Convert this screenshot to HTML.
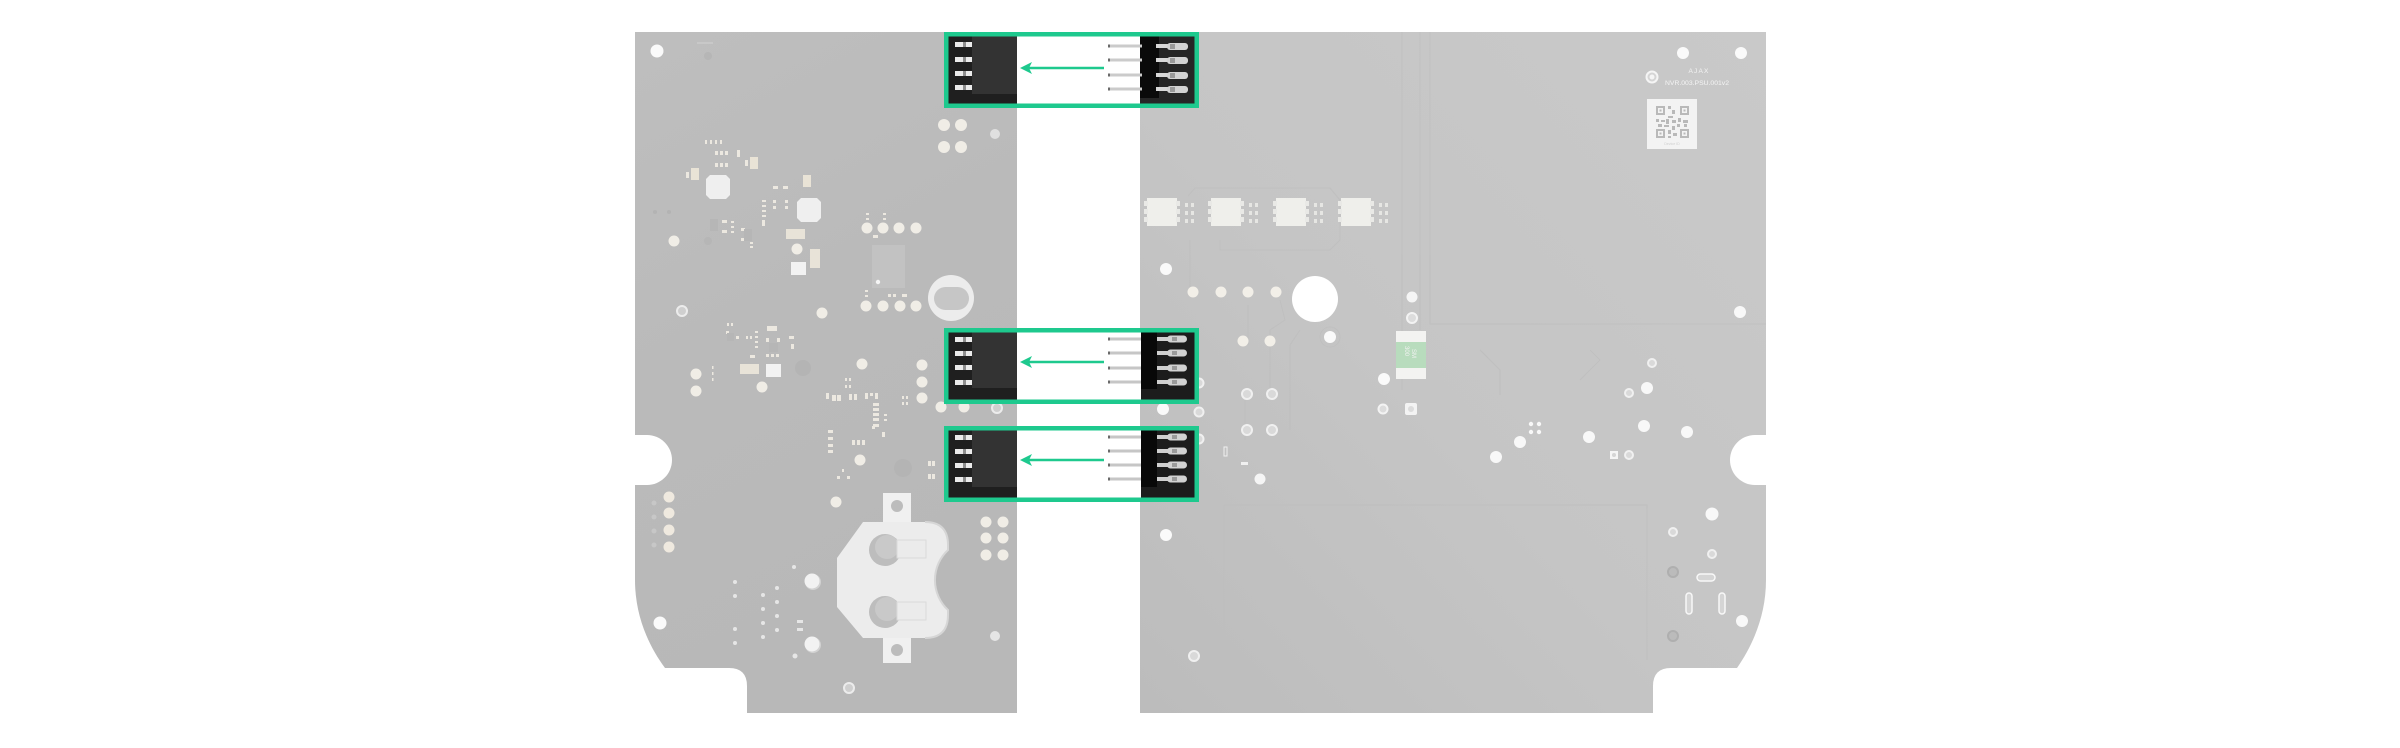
<!DOCTYPE html>
<html>
<head>
<meta charset="utf-8">
<style>
  html,body{margin:0;padding:0;background:#ffffff;}
  body{width:2400px;height:748px;overflow:hidden;}
  svg{display:block;}
  text{font-family:"Liberation Sans",sans-serif;}
</style>
</head>
<body>
<svg width="2400" height="748" viewBox="0 0 2400 748" xmlns="http://www.w3.org/2000/svg">
  <defs>
    <linearGradient id="gl" x1="0" y1="0" x2="0.3" y2="1">
      <stop offset="0" stop-color="#bebebe"/>
      <stop offset="0.5" stop-color="#bababa"/>
      <stop offset="1" stop-color="#b8b8b8"/>
    </linearGradient>
    <linearGradient id="gr" x1="1" y1="0" x2="0" y2="1">
      <stop offset="0" stop-color="#c9c9c9"/>
      <stop offset="0.55" stop-color="#c5c5c5"/>
      <stop offset="1" stop-color="#bcbcbc"/>
    </linearGradient>
  </defs>

  <!-- LEFT BOARD -->
  <path d="M635,32 H1017 V713 H747 V686 Q747,668 729,668 H665 C648,645 635,615 635,580 V485 H647 A25,25 0 0 0 647,435 H635 Z" fill="url(#gl)"/>

  <!-- RIGHT BOARD -->
  <path d="M1140,32 H1766 V435 H1755 A25,25 0 0 0 1755,485 H1766 V580 C1766,615 1753,645 1737,668 H1671 Q1653,668 1653,686 V713 H1140 Z" fill="url(#gr)"/>

  <!-- faint traces right board -->
  <g fill="none" stroke="#bdbdbd" stroke-width="1" opacity="0.7">
    <path d="M1402,32 V390 M1420,32 V330 M1430,32 V324 H1766"/>
    <path d="M1190,240 V290 M1220,240 L1220,250 H1330 L1340,240 V200 L1330,188 H1195 L1188,196"/>
    <path d="M1248,305 V345 M1280,300 L1285,320 L1270,330 V400"/>
    <path d="M1300,330 L1290,345 V430 M1245,400 V440"/>
    <path d="M1224,505 H1647 V660 M1224,505 V660"/>
    <path d="M1480,350 L1500,370 V395 M1590,350 L1600,360 L1580,380"/>
  </g>

  <!-- LEFT BOARD DETAILS -->
  <g>
    <circle cx="657" cy="51" r="6.5" fill="#fafafa"/>
    <rect x="697" y="42" width="16" height="2" fill="#c8c8c8"/>
    <circle cx="708" cy="56" r="4" fill="#b6b6b6"/>
    <!-- 4 circles top -->
    <g fill="#f0ede6">
      <circle cx="944" cy="125" r="6"/><circle cx="961" cy="125" r="6"/>
      <circle cx="944" cy="147" r="6"/><circle cx="961" cy="147" r="6"/>
    </g>
    <circle cx="995" cy="134" r="5" fill="#e0e0e0"/>
    <!-- small pads cluster -->
    <g fill="#ece8e0">
      <rect x="705" y="140" width="2" height="4"/><rect x="710" y="140" width="2" height="4"/><rect x="715" y="140" width="2" height="4"/><rect x="720" y="140" width="2" height="4"/>
      <rect x="715" y="151" width="3" height="4"/><rect x="720" y="151" width="3" height="4"/><rect x="725" y="151" width="3" height="4"/>
      <rect x="737" y="150" width="3" height="7"/>
      <rect x="715" y="163" width="3" height="4"/><rect x="720" y="163" width="3" height="4"/><rect x="725" y="163" width="3" height="4"/>
      <rect x="745" y="160" width="3" height="6"/>
      <rect x="750" y="157" width="8" height="12" fill="#e9e3d6"/>
      <rect x="686" y="172" width="3" height="6"/>
      <rect x="691" y="168" width="8" height="12" fill="#e9e3d6"/>
      <rect x="803" y="175" width="8" height="12" fill="#e9e3d6"/>
      <rect x="773" y="186" width="5" height="3"/><rect x="783" y="186" width="5" height="3"/>
      <rect x="762" y="200" width="4" height="2"/><rect x="762" y="205" width="4" height="2"/><rect x="762" y="210" width="4" height="2"/><rect x="762" y="215" width="4" height="2"/>
      <rect x="762" y="220" width="3" height="6"/>
      <rect x="773" y="200" width="3" height="3"/><rect x="785" y="200" width="3" height="3"/><rect x="773" y="206" width="3" height="3"/><rect x="785" y="206" width="3" height="3"/>
      <rect x="722" y="220" width="5" height="3"/><rect x="722" y="230" width="5" height="3"/><rect x="714" y="225" width="3" height="3"/>
      <rect x="731" y="221" width="3" height="2"/><rect x="731" y="226" width="3" height="2"/><rect x="731" y="231" width="3" height="2"/>
      <rect x="741" y="228" width="4" height="3"/><rect x="741" y="238" width="4" height="3"/><rect x="750" y="242" width="3" height="2"/><rect x="750" y="246" width="3" height="2"/>
      <rect x="866" y="213" width="3" height="2"/><rect x="866" y="218" width="3" height="2"/><rect x="883" y="213" width="3" height="2"/><rect x="883" y="218" width="3" height="2"/>
      <rect x="873" y="235" width="5" height="3"/>
    </g>
    <circle cx="655" cy="212" r="2" fill="#b3b3b3"/><circle cx="669" cy="212" r="2" fill="#b3b3b3"/>
    <rect x="710" y="219" width="8" height="12" fill="#b6b6b6"/>
    <rect x="744" y="229" width="8" height="12" fill="#b6b6b6"/>
    <circle cx="708" cy="241" r="4" fill="#b6b6b6"/>
    <!-- chips -->
    <path d="M710,175 H726 L730,179 V195 L726,199 H710 L706,195 V179 Z" fill="#efefef"/>
    <path d="M801,198 H817 L821,202 V218 L817,222 H801 L797,218 V202 Z" fill="#efefef"/>
    <rect x="786" y="229" width="19" height="10" fill="#e8e3d8"/>
    <circle cx="797" cy="249" r="5.5" fill="#f0ede6"/>
    <rect x="810" y="249" width="10" height="19" fill="#e8e3d8"/>
    <rect x="791" y="262" width="15" height="13" fill="#f2f2f2"/>
    <circle cx="674" cy="241" r="5.5" fill="#f0ede6"/>
    <!-- row circles -->
    <g fill="#f0ede6">
      <circle cx="867" cy="228" r="5.5"/><circle cx="883" cy="228" r="5.5"/><circle cx="899" cy="228" r="5.5"/><circle cx="916" cy="228" r="5.5"/>
      <circle cx="866" cy="306" r="5.5"/><circle cx="883" cy="306" r="5.5"/><circle cx="900" cy="306" r="5.5"/><circle cx="916" cy="306" r="5.5"/>
    </g>
    <rect x="872" y="245" width="33" height="43" fill="#c2c2c2"/>
    <circle cx="878" cy="282" r="2.2" fill="#f5f5f5"/>
    <g fill="#ece8e0">
      <rect x="865" y="290" width="3" height="2"/><rect x="865" y="295" width="3" height="2"/>
      <rect x="888" y="294" width="3" height="3"/><rect x="893" y="294" width="3" height="3"/><rect x="902" y="294" width="5" height="3"/>
    </g>
    <!-- oval hole -->
    <circle cx="951" cy="298" r="23" fill="#ececec"/>
    <rect x="934" y="287" width="35" height="23" rx="11.5" fill="#c6c6c6"/>
    <circle cx="822" cy="313" r="5.5" fill="#f0ede6"/>
    <circle cx="682" cy="311" r="5" fill="#cfcfcf" stroke="#ececec" stroke-width="2"/>
    <!-- middle-lower left cluster -->
    <g fill="#ece8e0">
      <rect x="727" y="323" width="2" height="3"/><rect x="731" y="323" width="2" height="3"/>
      <rect x="726" y="331" width="3" height="3"/><rect x="736" y="336" width="3" height="3"/><rect x="746" y="336" width="2" height="3"/><rect x="750" y="336" width="2" height="3"/>
      <rect x="755" y="331" width="3" height="2"/><rect x="755" y="336" width="3" height="2"/><rect x="755" y="341" width="3" height="2"/><rect x="755" y="346" width="3" height="2"/>
      <rect x="767" y="326" width="10" height="5"/>
      <rect x="766" y="338" width="3" height="4"/><rect x="777" y="338" width="3" height="4"/>
      <rect x="766" y="354" width="3" height="3"/><rect x="771" y="354" width="3" height="3"/><rect x="776" y="354" width="3" height="3"/>
      <rect x="789" y="336" width="5" height="3"/><rect x="791" y="344" width="3" height="5"/>
      <rect x="750" y="355" width="5" height="3"/>
    </g>
    <rect x="727" y="333" width="7" height="8" fill="#b6b6b6"/>
    <rect x="769" y="343" width="9" height="9" fill="#b6b6b6"/>
    <rect x="740" y="364" width="19" height="10" fill="#e8e3d8"/>
    <rect x="766" y="364" width="15" height="13" fill="#f2f2f2"/>
    <circle cx="803" cy="368" r="8" fill="#b4b4b4"/>
    <g fill="#f0ede6">
      <circle cx="862" cy="364" r="5.5"/><circle cx="696" cy="374" r="5.5"/><circle cx="696" cy="391" r="5.5"/><circle cx="762" cy="387" r="5.5"/>
      <circle cx="922" cy="365" r="5.5"/><circle cx="922" cy="382" r="5.5"/><circle cx="922" cy="398" r="5.5"/>
      <circle cx="941" cy="407" r="5.5"/><circle cx="964" cy="407" r="5.5"/>
    </g>
    <circle cx="997" cy="408" r="5" fill="#cfcfcf" stroke="#ececec" stroke-width="2"/>
    <g fill="#ece8e0">
      <rect x="712" y="366" width="1.5" height="3"/><rect x="712" y="372" width="1.5" height="3"/><rect x="712" y="378" width="1.5" height="3"/>
      <rect x="845" y="378" width="2" height="3"/><rect x="849" y="378" width="2" height="3"/>
      <rect x="845" y="385" width="2" height="3"/><rect x="849" y="385" width="2" height="3"/>
      <rect x="826" y="393" width="3" height="6"/><rect x="832" y="395" width="4" height="6"/><rect x="837" y="395" width="4" height="6"/>
      <rect x="849" y="394" width="3" height="6"/><rect x="854" y="394" width="3" height="6"/>
      <rect x="865" y="393" width="3" height="6"/><rect x="870" y="393" width="3" height="3"/><rect x="875" y="393" width="3" height="6"/>
      <rect x="873" y="403" width="6" height="3"/><rect x="873" y="408" width="6" height="3"/><rect x="873" y="413" width="6" height="3"/><rect x="873" y="418" width="6" height="3"/><rect x="873" y="424" width="6" height="3"/>
      <rect x="884" y="414" width="3" height="2"/><rect x="884" y="419" width="3" height="2"/>
      <rect x="902" y="396" width="2" height="3"/><rect x="906" y="396" width="2" height="3"/><rect x="902" y="402" width="2" height="3"/><rect x="906" y="402" width="2" height="3"/>
      <rect x="828" y="430" width="5" height="3"/><rect x="828" y="437" width="5" height="3"/><rect x="828" y="444" width="5" height="3"/><rect x="828" y="450" width="5" height="3"/>
      <rect x="852" y="440" width="3" height="5"/><rect x="857" y="440" width="3" height="5"/><rect x="862" y="440" width="3" height="5"/>
      <rect x="872" y="426" width="3" height="3"/><rect x="882" y="432" width="3" height="5"/>
      <rect x="837" y="476" width="3" height="3"/><rect x="847" y="476" width="3" height="3"/><rect x="842" y="469" width="2" height="3"/>
      <rect x="928" y="461" width="3" height="5"/><rect x="932" y="461" width="3" height="5"/>
      <rect x="928" y="474" width="3" height="5"/><rect x="932" y="474" width="3" height="5"/>
    </g>
    <circle cx="860" cy="460" r="5.5" fill="#f0ede6"/>
    <circle cx="836" cy="502" r="5.5" fill="#f0ede6"/>
    <circle cx="903" cy="468" r="9" fill="#b4b4b4"/>
    <!-- left column -->
    <g fill="#efe9df">
      <circle cx="669" cy="497" r="5.5"/><circle cx="669" cy="513" r="5.5"/><circle cx="669" cy="530" r="5.5"/><circle cx="669" cy="547" r="5.5"/>
    </g>
    <g fill="#c7c7c7">
      <circle cx="654" cy="503" r="2.5"/><circle cx="654" cy="517" r="2.5"/><circle cx="654" cy="531" r="2.5"/><circle cx="654" cy="545" r="2.5"/>
    </g>
    <!-- battery holder -->
    <rect x="883" y="493" width="28" height="31" fill="#f0f0f0"/>
    <circle cx="897" cy="506" r="6" fill="#bcbcbc"/>
    <rect x="883" y="636" width="28" height="27" fill="#f0f0f0"/>
    <circle cx="897" cy="650" r="6" fill="#bcbcbc"/>
    <path d="M863,522 H925 Q948,522 948,545 V550 A41,41 0 0 0 948,610 V615 Q948,638 925,638 H863 L837,607 V558 Z" fill="#ececec"/>
    <path d="M925,522 Q948,522 948,545 V550 A41,41 0 0 0 948,610 V615 Q948,638 925,638" fill="none" stroke="#d6d6d6" stroke-width="2"/>
    <circle cx="885" cy="550" r="16" fill="#bdbdbd"/>
    <circle cx="887" cy="547" r="12" fill="#c9c9c9"/>
    <rect x="897" y="540" width="29" height="18" fill="#ebebeb" stroke="#dadada" stroke-width="1"/>
    <circle cx="885" cy="612" r="16" fill="#bdbdbd"/>
    <circle cx="887" cy="609" r="12" fill="#c9c9c9"/>
    <rect x="897" y="602" width="29" height="18" fill="#ebebeb" stroke="#dadada" stroke-width="1"/>
    <!-- 6 circles -->
    <g fill="#f0ede6">
      <circle cx="986" cy="522" r="5.5"/><circle cx="1003" cy="522" r="5.5"/>
      <circle cx="986" cy="538" r="5.5"/><circle cx="1003" cy="538" r="5.5"/>
      <circle cx="986" cy="555" r="5.5"/><circle cx="1003" cy="555" r="5.5"/>
    </g>
    <circle cx="660" cy="623" r="6.5" fill="#fafafa"/>
    <circle cx="995" cy="636" r="5" fill="#e5e5e5"/>
    <circle cx="813" cy="582" r="8" fill="#d2d2d2"/><circle cx="812" cy="581" r="7.5" fill="#f2f2f2"/>
    <circle cx="813" cy="645" r="8" fill="#d2d2d2"/><circle cx="812" cy="644" r="7.5" fill="#f2f2f2"/>
    <circle cx="849" cy="688" r="5" fill="#cfcfcf" stroke="#ececec" stroke-width="2"/>
    <g fill="#e6e6e6">
      <circle cx="735" cy="582" r="2"/><circle cx="735" cy="596" r="2"/><circle cx="735" cy="629" r="2"/><circle cx="735" cy="643" r="2"/>
      <circle cx="763" cy="595" r="2"/><circle cx="763" cy="609" r="2"/><circle cx="763" cy="623" r="2"/><circle cx="763" cy="637" r="2"/>
      <circle cx="777" cy="588" r="2"/><circle cx="777" cy="602" r="2"/><circle cx="777" cy="616" r="2"/><circle cx="777" cy="630" r="2"/>
      <circle cx="794" cy="567" r="2"/><circle cx="795" cy="656" r="2.5"/>
      <rect x="797" y="620" width="6" height="3"/><rect x="797" y="628" width="6" height="3"/>
    </g>
  </g>

  <!-- RIGHT BOARD DETAILS -->
  <g>
    <!-- LEDs -->
    <g>
      <g transform="translate(1145,198)">
        <rect x="2" y="0" width="30" height="28" fill="#efefeb"/>
        <rect x="-1" y="3" width="4" height="5" fill="#e9e9e6"/><rect x="-1" y="11" width="4" height="5" fill="#e9e9e6"/><rect x="-1" y="19" width="4" height="5" fill="#e9e9e6"/>
        <rect x="31" y="3" width="4" height="5" fill="#e9e9e6"/><rect x="31" y="11" width="4" height="5" fill="#e9e9e6"/><rect x="31" y="19" width="4" height="5" fill="#e9e9e6"/>
        <g fill="#e6e6e3"><rect x="40" y="5" width="3" height="4"/><rect x="46" y="5" width="3" height="4"/><rect x="40" y="13" width="3" height="4"/><rect x="46" y="13" width="3" height="4"/><rect x="40" y="21" width="3" height="4"/><rect x="46" y="21" width="3" height="4"/></g>
      </g>
      <g transform="translate(1209,198)">
        <rect x="2" y="0" width="30" height="28" fill="#efefeb"/>
        <rect x="-1" y="3" width="4" height="5" fill="#e9e9e6"/><rect x="-1" y="11" width="4" height="5" fill="#e9e9e6"/><rect x="-1" y="19" width="4" height="5" fill="#e9e9e6"/>
        <rect x="31" y="3" width="4" height="5" fill="#e9e9e6"/><rect x="31" y="11" width="4" height="5" fill="#e9e9e6"/><rect x="31" y="19" width="4" height="5" fill="#e9e9e6"/>
        <g fill="#e6e6e3"><rect x="40" y="5" width="3" height="4"/><rect x="46" y="5" width="3" height="4"/><rect x="40" y="13" width="3" height="4"/><rect x="46" y="13" width="3" height="4"/><rect x="40" y="21" width="3" height="4"/><rect x="46" y="21" width="3" height="4"/></g>
      </g>
      <g transform="translate(1274,198)">
        <rect x="2" y="0" width="30" height="28" fill="#efefeb"/>
        <rect x="-1" y="3" width="4" height="5" fill="#e9e9e6"/><rect x="-1" y="11" width="4" height="5" fill="#e9e9e6"/><rect x="-1" y="19" width="4" height="5" fill="#e9e9e6"/>
        <rect x="31" y="3" width="4" height="5" fill="#e9e9e6"/><rect x="31" y="11" width="4" height="5" fill="#e9e9e6"/><rect x="31" y="19" width="4" height="5" fill="#e9e9e6"/>
        <g fill="#e6e6e3"><rect x="40" y="5" width="3" height="4"/><rect x="46" y="5" width="3" height="4"/><rect x="40" y="13" width="3" height="4"/><rect x="46" y="13" width="3" height="4"/><rect x="40" y="21" width="3" height="4"/><rect x="46" y="21" width="3" height="4"/></g>
      </g>
      <g transform="translate(1339,198)">
        <rect x="2" y="0" width="30" height="28" fill="#efefeb"/>
        <rect x="-1" y="3" width="4" height="5" fill="#e9e9e6"/><rect x="-1" y="11" width="4" height="5" fill="#e9e9e6"/><rect x="-1" y="19" width="4" height="5" fill="#e9e9e6"/>
        <rect x="31" y="3" width="4" height="5" fill="#e9e9e6"/><rect x="31" y="11" width="4" height="5" fill="#e9e9e6"/><rect x="31" y="19" width="4" height="5" fill="#e9e9e6"/>
        <g fill="#e6e6e3"><rect x="40" y="5" width="3" height="4"/><rect x="46" y="5" width="3" height="4"/><rect x="40" y="13" width="3" height="4"/><rect x="46" y="13" width="3" height="4"/><rect x="40" y="21" width="3" height="4"/><rect x="46" y="21" width="3" height="4"/></g>
      </g>
    </g>

    <circle cx="1166" cy="269" r="6" fill="#fafafa"/>
    <g fill="#f2efe8">
      <circle cx="1193" cy="292" r="5.5"/><circle cx="1221" cy="292" r="5.5"/><circle cx="1248" cy="292" r="5.5"/><circle cx="1276" cy="292" r="5.5"/>
      <circle cx="1243" cy="341" r="5.5"/><circle cx="1270" cy="341" r="5.5"/>
    </g>
    <circle cx="1315" cy="299" r="23" fill="#ffffff"/>
    <circle cx="1330" cy="337" r="10" fill="none" stroke="#c0c0c0" stroke-width="1"/>
    <circle cx="1330" cy="337" r="6" fill="#fafafa"/>
    <circle cx="1412" cy="297" r="5.5" fill="#f5f5f5"/>
    <circle cx="1412" cy="318" r="5" fill="#dcdcdc" stroke="#f3f3f3" stroke-width="2"/>
    <!-- fuse -->
    <rect x="1396" y="331" width="30" height="48" fill="#f3f3f1"/>
    <rect x="1396" y="342" width="30" height="26" fill="#b8dcbd"/>
    <text x="0" y="0" font-size="6" fill="#f2f2f2" transform="translate(1412,349) rotate(90)" text-anchor="start">SM</text>
    <text x="0" y="0" font-size="6" fill="#f2f2f2" transform="translate(1405,346) rotate(90)" text-anchor="start">300</text>
    <circle cx="1384" cy="379" r="6" fill="#fafafa"/>
    <circle cx="1383" cy="409" r="4.5" fill="#dcdcdc" stroke="#f3f3f3" stroke-width="2"/>
    <rect x="1405" y="403" width="12" height="12" rx="2" fill="#f3f3f3"/><circle cx="1411" cy="409" r="3" fill="#dcdcdc"/>
    <g fill="#d9d9d9" stroke="#f0f0f0" stroke-width="2">
      <circle cx="1247" cy="394" r="5"/><circle cx="1272" cy="394" r="5"/>
      <circle cx="1247" cy="430" r="5"/><circle cx="1272" cy="430" r="5"/>
      <circle cx="1199" cy="383" r="4.5"/><circle cx="1199" cy="412" r="4.5"/><circle cx="1199" cy="439" r="4.5"/>
      <circle cx="1194" cy="656" r="5"/>
      <circle cx="1652" cy="363" r="4"/><circle cx="1629" cy="393" r="4"/>
      <circle cx="1673" cy="532" r="4"/><circle cx="1712" cy="554" r="4"/>
      <circle cx="1629" cy="455" r="4"/>
    </g>
    <circle cx="1163" cy="409" r="6" fill="#fafafa"/>
    <rect x="1224" y="447" width="3" height="9" fill="none" stroke="#f0f0f0" stroke-width="1"/>
    <rect x="1241" y="462" width="7" height="3" fill="#f0f0f0"/>
    <circle cx="1260" cy="479" r="5.5" fill="#f5f5f5"/>
    <circle cx="1166" cy="535" r="6" fill="#fafafa"/>
    <g fill="#f8f8f8">
      <circle cx="1740" cy="312" r="6"/>
      <circle cx="1647" cy="388" r="6"/>
      <circle cx="1496" cy="457" r="6"/><circle cx="1520" cy="442" r="6"/><circle cx="1589" cy="437" r="6"/><circle cx="1644" cy="426" r="6"/><circle cx="1687" cy="432" r="6"/>
      <circle cx="1712" cy="514" r="6.5"/><circle cx="1742" cy="621" r="6"/>
      <circle cx="1531" cy="424" r="2.2"/><circle cx="1539" cy="424" r="2.2"/><circle cx="1531" cy="432" r="2.2"/><circle cx="1539" cy="432" r="2.2"/>
    </g>
    <rect x="1610" y="451" width="8" height="8" fill="#f5f5f5"/><circle cx="1614" cy="455" r="2" fill="#d5d5d5"/>
    <circle cx="1673" cy="572" r="5" fill="#bbbbbb" stroke="#afafaf" stroke-width="2"/>
    <circle cx="1673" cy="636" r="5" fill="#bbbbbb" stroke="#afafaf" stroke-width="2"/>
    <rect x="1697" y="574" width="18" height="7" rx="3.5" fill="#d5d5d5" stroke="#f8f8f8" stroke-width="1.5"/>
    <rect x="1686" y="593" width="6" height="21" rx="3" fill="#d5d5d5" stroke="#f8f8f8" stroke-width="1.5"/>
    <rect x="1719" y="593" width="6" height="21" rx="3" fill="#d5d5d5" stroke="#f8f8f8" stroke-width="1.5"/>

    <!-- top right label area -->
    <circle cx="1683" cy="53" r="6" fill="#fafafa"/>
    <circle cx="1741" cy="53" r="6" fill="#fafafa"/>
    <circle cx="1652" cy="77" r="5.5" fill="#d5d5d5" stroke="#f5f5f5" stroke-width="2"/>
    <circle cx="1652" cy="77" r="2.5" fill="#f5f5f5"/>
    <text x="1699" y="73" font-size="6.5" fill="#f4f4f4" text-anchor="middle" letter-spacing="1.2">AJAX</text>
    <text x="1697" y="85" font-size="6.4" fill="#f4f4f4" text-anchor="middle" textLength="64" lengthAdjust="spacingAndGlyphs">NVR.003.PSU.001v2</text>
    <rect x="1647" y="99" width="50" height="50" fill="#f3f3f3"/>
    <g fill="#b9b9b9">
      <rect x="1656" y="106" width="9" height="9"/><rect x="1680" y="106" width="9" height="9"/><rect x="1656" y="129" width="9" height="9"/><rect x="1680" y="129" width="9" height="9"/>
      <rect x="1668" y="106" width="3" height="3"/><rect x="1672" y="110" width="3" height="4"/><rect x="1668" y="116" width="5" height="2"/>
      <rect x="1656" y="119" width="3" height="3"/><rect x="1661" y="120" width="4" height="2"/><rect x="1666" y="119" width="3" height="5"/><rect x="1672" y="120" width="4" height="3"/><rect x="1678" y="118" width="3" height="4"/><rect x="1683" y="120" width="5" height="3"/>
      <rect x="1658" y="124" width="4" height="3"/><rect x="1664" y="125" width="5" height="2"/><rect x="1672" y="126" width="3" height="4"/><rect x="1677" y="124" width="3" height="3"/><rect x="1684" y="124" width="3" height="3"/>
      <rect x="1668" y="130" width="3" height="4"/><rect x="1673" y="133" width="4" height="3"/><rect x="1668" y="136" width="3" height="2"/>
    </g>
    <g fill="#f3f3f3">
      <rect x="1658" y="108" width="5" height="5"/><rect x="1682" y="108" width="5" height="5"/><rect x="1658" y="131" width="5" height="5"/><rect x="1682" y="131" width="5" height="5"/>
    </g>
    <g fill="#b9b9b9">
      <rect x="1659.5" y="109.5" width="2" height="2"/><rect x="1683.5" y="109.5" width="2" height="2"/><rect x="1659.5" y="132.5" width="2" height="2"/><rect x="1683.5" y="132.5" width="2" height="2"/>
    </g>
    <text x="1672" y="145" font-size="3.6" fill="#cfcfcf" text-anchor="middle">Device ID</text>
  </g>

  <!-- CONNECTOR CALLOUT BOXES -->
  <g id="box1">
    <rect x="948" y="36" width="69" height="68" fill="#1f1f1f"/>
    <rect x="972" y="36" width="45" height="58" fill="#333333"/>
    <g>
      <rect x="955" y="42" width="17" height="5" fill="#ebebeb"/><rect x="963" y="42" width="3" height="5" fill="#8e8e8e"/>
      <rect x="955" y="57" width="17" height="5" fill="#ebebeb"/><rect x="963" y="57" width="3" height="5" fill="#8e8e8e"/>
      <rect x="955" y="71" width="17" height="5" fill="#ebebeb"/><rect x="963" y="71" width="3" height="5" fill="#8e8e8e"/>
      <rect x="955" y="85" width="17" height="5" fill="#ebebeb"/><rect x="963" y="85" width="3" height="5" fill="#8e8e8e"/>
    </g>
    <rect x="1017" y="36" width="123" height="68" fill="#ffffff"/>
    <rect x="1140" y="36" width="56" height="68" fill="#262626"/>
    <rect x="1140" y="36" width="19" height="62" fill="#0a0a0a"/>
    <g>
      <rect x="1108" y="44.5" width="34" height="3" fill="#cbcbcb"/><rect x="1108" y="44.5" width="2" height="3" fill="#6a6a6a"/>
      <rect x="1108" y="58.5" width="34" height="3" fill="#cbcbcb"/><rect x="1108" y="58.5" width="2" height="3" fill="#6a6a6a"/>
      <rect x="1108" y="73.5" width="34" height="3" fill="#cbcbcb"/><rect x="1108" y="73.5" width="2" height="3" fill="#6a6a6a"/>
      <rect x="1108" y="87.5" width="34" height="3" fill="#cbcbcb"/><rect x="1108" y="87.5" width="2" height="3" fill="#6a6a6a"/>
      <rect x="1156" y="44" width="14" height="4" fill="#d8d8d8"/><rect x="1167" y="43" width="21" height="7" rx="3" fill="#d3d3d3"/><rect x="1170" y="44" width="5" height="5" fill="#9a9a9a"/>
      <rect x="1156" y="58" width="14" height="4" fill="#d8d8d8"/><rect x="1167" y="57" width="21" height="7" rx="3" fill="#d3d3d3"/><rect x="1170" y="58" width="5" height="5" fill="#9a9a9a"/>
      <rect x="1156" y="73" width="14" height="4" fill="#d8d8d8"/><rect x="1167" y="72" width="21" height="7" rx="3" fill="#d3d3d3"/><rect x="1170" y="73" width="5" height="5" fill="#9a9a9a"/>
      <rect x="1156" y="87" width="14" height="4" fill="#d8d8d8"/><rect x="1167" y="86" width="21" height="7" rx="3" fill="#d3d3d3"/><rect x="1170" y="87" width="5" height="5" fill="#9a9a9a"/>
    </g>
    <line x1="1104" y1="68" x2="1028" y2="68" stroke="#1ec98e" stroke-width="2.5"/>
    <polygon points="1020,68 1032,62 1029,68 1032,74" fill="#1ec98e"/>
    <rect x="946.25" y="34.25" width="250.5" height="71.5" fill="none" stroke="#1ec98e" stroke-width="4.5"/>
  </g>

  <g id="box2" transform="translate(0,296)">
    <rect x="948" y="36" width="69" height="68" fill="#1f1f1f"/>
    <rect x="972" y="36" width="45" height="56" fill="#333333"/>
    <g>
      <rect x="955" y="41" width="17" height="5" fill="#ebebeb"/><rect x="963" y="41" width="3" height="5" fill="#8e8e8e"/>
      <rect x="955" y="55" width="17" height="5" fill="#ebebeb"/><rect x="963" y="55" width="3" height="5" fill="#8e8e8e"/>
      <rect x="955" y="69" width="17" height="5" fill="#ebebeb"/><rect x="963" y="69" width="3" height="5" fill="#8e8e8e"/>
      <rect x="955" y="84" width="17" height="5" fill="#ebebeb"/><rect x="963" y="84" width="3" height="5" fill="#8e8e8e"/>
    </g>
    <rect x="1017" y="36" width="124" height="68" fill="#ffffff"/>
    <rect x="1141" y="36" width="55" height="68" fill="#1c1c1c"/>
    <rect x="1141" y="36" width="16" height="57" fill="#080808"/>
    <g>
      <rect x="1108" y="41.5" width="33" height="3" fill="#c6c6c6"/><rect x="1108" y="41.5" width="2" height="3" fill="#6a6a6a"/>
      <rect x="1108" y="55.5" width="33" height="3" fill="#c6c6c6"/><rect x="1108" y="55.5" width="2" height="3" fill="#6a6a6a"/>
      <rect x="1108" y="70.5" width="33" height="3" fill="#c6c6c6"/><rect x="1108" y="70.5" width="2" height="3" fill="#6a6a6a"/>
      <rect x="1108" y="84.5" width="33" height="3" fill="#c6c6c6"/><rect x="1108" y="84.5" width="2" height="3" fill="#6a6a6a"/>
      <rect x="1157" y="41" width="12" height="4" fill="#cfcfcf"/><rect x="1167" y="39.5" width="20" height="7" rx="3.5" fill="#d2d2d2"/><rect x="1172" y="41" width="5" height="4" fill="#9a9a9a"/>
      <rect x="1157" y="55" width="12" height="4" fill="#cfcfcf"/><rect x="1167" y="53.5" width="20" height="7" rx="3.5" fill="#d2d2d2"/><rect x="1172" y="55" width="5" height="4" fill="#9a9a9a"/>
      <rect x="1157" y="70" width="12" height="4" fill="#cfcfcf"/><rect x="1167" y="68.5" width="20" height="7" rx="3.5" fill="#d2d2d2"/><rect x="1172" y="70" width="5" height="4" fill="#9a9a9a"/>
      <rect x="1157" y="84" width="12" height="4" fill="#cfcfcf"/><rect x="1167" y="82.5" width="20" height="7" rx="3.5" fill="#d2d2d2"/><rect x="1172" y="84" width="5" height="4" fill="#9a9a9a"/>
    </g>
    <line x1="1104" y1="66" x2="1028" y2="66" stroke="#1ec98e" stroke-width="2.5"/>
    <polygon points="1020,66 1032,60 1029,66 1032,72" fill="#1ec98e"/>
    <rect x="946.25" y="34.25" width="250.5" height="71.5" fill="none" stroke="#1ec98e" stroke-width="4.5"/>
  </g>

  <g id="box3" transform="translate(0,394)">
    <rect x="948" y="36" width="69" height="68" fill="#1f1f1f"/>
    <rect x="972" y="36" width="45" height="57" fill="#333333"/>
    <g>
      <rect x="955" y="41" width="17" height="5" fill="#ebebeb"/><rect x="963" y="41" width="3" height="5" fill="#8e8e8e"/>
      <rect x="955" y="55" width="17" height="5" fill="#ebebeb"/><rect x="963" y="55" width="3" height="5" fill="#8e8e8e"/>
      <rect x="955" y="69" width="17" height="5" fill="#ebebeb"/><rect x="963" y="69" width="3" height="5" fill="#8e8e8e"/>
      <rect x="955" y="83" width="17" height="5" fill="#ebebeb"/><rect x="963" y="83" width="3" height="5" fill="#8e8e8e"/>
    </g>
    <rect x="1017" y="36" width="124" height="68" fill="#ffffff"/>
    <rect x="1141" y="36" width="55" height="68" fill="#1c1c1c"/>
    <rect x="1141" y="36" width="16" height="57" fill="#080808"/>
    <g>
      <rect x="1108" y="41.5" width="33" height="3" fill="#c6c6c6"/><rect x="1108" y="41.5" width="2" height="3" fill="#6a6a6a"/>
      <rect x="1108" y="55.5" width="33" height="3" fill="#c6c6c6"/><rect x="1108" y="55.5" width="2" height="3" fill="#6a6a6a"/>
      <rect x="1108" y="69.5" width="33" height="3" fill="#c6c6c6"/><rect x="1108" y="69.5" width="2" height="3" fill="#6a6a6a"/>
      <rect x="1108" y="83.5" width="33" height="3" fill="#c6c6c6"/><rect x="1108" y="83.5" width="2" height="3" fill="#6a6a6a"/>
      <rect x="1157" y="41" width="12" height="4" fill="#cfcfcf"/><rect x="1167" y="39.5" width="20" height="7" rx="3.5" fill="#d2d2d2"/><rect x="1172" y="41" width="5" height="4" fill="#9a9a9a"/>
      <rect x="1157" y="55" width="12" height="4" fill="#cfcfcf"/><rect x="1167" y="53.5" width="20" height="7" rx="3.5" fill="#d2d2d2"/><rect x="1172" y="55" width="5" height="4" fill="#9a9a9a"/>
      <rect x="1157" y="69" width="12" height="4" fill="#cfcfcf"/><rect x="1167" y="67.5" width="20" height="7" rx="3.5" fill="#d2d2d2"/><rect x="1172" y="69" width="5" height="4" fill="#9a9a9a"/>
      <rect x="1157" y="83" width="12" height="4" fill="#cfcfcf"/><rect x="1167" y="81.5" width="20" height="7" rx="3.5" fill="#d2d2d2"/><rect x="1172" y="83" width="5" height="4" fill="#9a9a9a"/>
    </g>
    <line x1="1104" y1="66" x2="1028" y2="66" stroke="#1ec98e" stroke-width="2.5"/>
    <polygon points="1020,66 1032,60 1029,66 1032,72" fill="#1ec98e"/>
    <rect x="946.25" y="34.25" width="250.5" height="71.5" fill="none" stroke="#1ec98e" stroke-width="4.5"/>
  </g>
</svg>
</body>
</html>
